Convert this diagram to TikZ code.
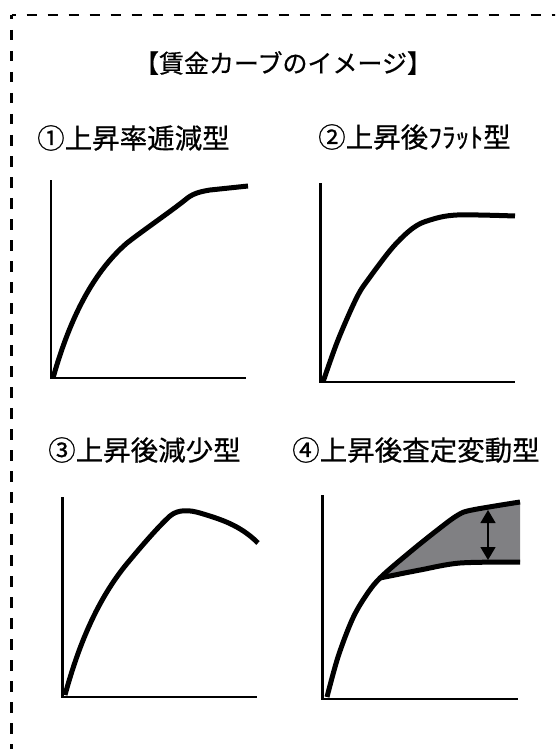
\documentclass[tikz,border=0pt]{standalone}
\usepackage{fontspec}
\newfontfamily\jp[FakeBold=0.6]{Noto Sans CJK JP}
\usetikzlibrary{arrows.meta}
\definecolor{bandgray}{RGB}{128,128,131}
\tikzset{
  frame/.style={line width=2.7pt, dash pattern=on 10.5pt off 10.5pt, dash phase=6pt},
  axis/.style={line width=2.6pt, line join=miter},
  curve/.style={line width=5pt, line join=round, line cap=butt},
  ttl/.style={font=\jp\fontsize{25}{30}\selectfont, inner sep=0pt},
  sub/.style={font=\jp\fontsize{27.5}{32}\selectfont, inner sep=0pt, anchor=west},
}
\begin{document}
\begin{tikzpicture}[x=1pt,y=-1pt]
\useasboundingbox (0,0) rectangle (555,749);
\begin{scope}
\clip (0,0) rectangle (555,749);
\coordinate (corner) at (11.5,15);
\coordinate (fbot) at (11.5,770);
\coordinate (fright) at (580,15);
\draw[frame] (corner) -- (fbot);
\draw[frame] (corner) -- (fright);
\end{scope}
% texts
\node[ttl] (title) at (283,63) {【賃金カーブのイメージ】};
\node[sub] (s1) at (37,138) {①上昇率逓減型};
\node[sub] (s2) at (318,137) {②上昇後ﾌﾗｯﾄ型};
\node[sub] (s3) at (48,450) {③上昇後減少型};
\node[sub] (s4) at (292,450) {④上昇後査定変動型};
% chart 1
\draw[axis] (51,180) -- (51,378) -- (246,378);
\draw[curve] (53,378) .. controls (68,325) and (90,275) .. (127,243)
  .. controls (145,229) and (170,212) .. (185,200)
  .. controls (192,194) and (198,192) .. (210,190) -- (248,186);
% chart 2
\draw[axis] (320.7,183) -- (320.7,382) -- (515,382);
\draw[curve] plot[smooth,tension=0.55] coordinates {(323,382) (338,340) (357,297) (370,277) (393,247) (413,228) (430,220) (457,215) (515,216)};
% chart 3
\draw[axis] (62.3,497) -- (62.3,697) -- (257,697);
\draw[curve] (65,695) .. controls (80,640) and (100,595) .. (130,560)
  .. controls (145,542) and (160,525) .. (170,516)
  .. controls (178,509) and (190,510) .. (200,513)
  .. controls (220,519) and (240,525) .. (258,543);
% chart 4
\draw[axis] (322.7,495) -- (322.7,699) -- (518,699);
\fill[bandgray] plot[smooth,tension=0.5] coordinates {(380,578) (410,552) (440,528) (458,515) (472,510) (520,502)}
  -- plot[smooth,tension=0.5] coordinates {(520,562) (460,563) (420,570) (380,578)} -- cycle;
\draw[curve] plot[smooth,tension=0.55] coordinates {(327,697) (338,657) (352,620) (365,597) (380,578) (410,552) (440,528) (458,515) (472,510) (520,502)};
\draw[curve] plot[smooth,tension=0.5] coordinates {(380,578) (420,570) (460,563) (520,562)};
\coordinate (atop) at (488,510);
\coordinate (abot) at (488,560);
\draw[line width=1.4pt, {Triangle[width=15pt,length=13pt]}-{Triangle[width=15pt,length=13pt]}] (atop) -- (abot);
\end{tikzpicture}
\end{document}
